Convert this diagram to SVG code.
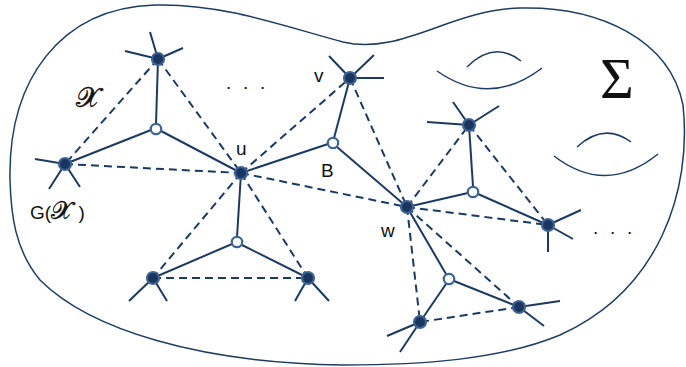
<svg xmlns="http://www.w3.org/2000/svg" width="686" height="367" viewBox="0 0 686 367">
  <style>
    .surf { fill: none; stroke: #1d3c66; stroke-width: 1.5; }
    .handle { fill: none; stroke: #1d3c66; stroke-width: 1.5; }
    .edge { fill: none; stroke: #1b3a63; stroke-width: 2; stroke-linecap: butt; }
    .dash { fill: none; stroke: #1b3a63; stroke-width: 2; stroke-dasharray: 8 5; }
    .spoke { stroke: #1b3a63; stroke-width: 2; }
    .vtx { fill: #1a3660; stroke: #3f6392; stroke-width: 2.2; }
    .hub { fill: #ffffff; stroke: #3b6596; stroke-width: 2.2; }
    .lbl { font-family: "Liberation Sans", Arial, sans-serif; font-size: 19px; fill: #111111; }
    .math { font-family: "Liberation Serif", "DejaVu Serif", serif; fill: #111111; }
  </style>

  <!-- the surface -->
  <path class="surf" d="M 10,180 C 8,80 60,8 155,5 C 220,3 280,25 343,42 C 400,56 450,10 520,8 C 600,6 670,40 683,105 C 692,190 660,290 560,335 C 500,360 420,365 343,365 C 200,363 90,330 40,280 C 15,250 11,215 10,180 Z"/>

  <!-- handles -->
  <g id="handle-1">
    <path class="handle" d="M 437,71 Q 490,108 542,68"/>
    <path class="handle" d="M 467,67 Q 494,40 521,61"/>
  </g>
  <g id="handle-2">
    <path class="handle" d="M 554,156 Q 606,196 658,154"/>
    <path class="handle" d="M 577,147 Q 604,122 631,142"/>
  </g>

  <!-- connectors -->
  <g id="connectors">
    <!-- star edges through the open hubs -->
    <line class="edge" x1="158" y1="59" x2="156" y2="124"/>
    <line class="edge" x1="151" y1="130" x2="65" y2="164"/>
    <line class="edge" x1="161" y1="131" x2="241" y2="173"/>

    <line class="edge" x1="241" y1="173" x2="328" y2="144"/>
    <line class="edge" x1="334" y1="138" x2="350" y2="78"/>
    <line class="edge" x1="337" y1="147" x2="407" y2="207"/>

    <line class="edge" x1="407" y1="207" x2="468" y2="193"/>
    <line class="edge" x1="473" y1="187" x2="469" y2="125"/>
    <line class="edge" x1="478" y1="194" x2="548" y2="225"/>

    <line class="edge" x1="407" y1="207" x2="446" y2="274"/>
    <line class="edge" x1="454" y1="281" x2="519" y2="307"/>
    <line class="edge" x1="446" y1="284" x2="420" y2="322"/>

    <line class="edge" x1="241" y1="173" x2="237" y2="237"/>
    <line class="edge" x1="232" y1="244" x2="153" y2="278"/>
    <line class="edge" x1="242" y1="245" x2="308" y2="278"/>

    <!-- dashed triangle edges -->
    <line class="dash" x1="158" y1="59" x2="65" y2="164"/>
    <line class="dash" x1="158" y1="59" x2="241" y2="173"/>
    <line class="dash" x1="65" y1="164" x2="241" y2="173"/>

    <line class="dash" x1="241" y1="173" x2="350" y2="78"/>
    <line class="dash" x1="350" y1="78" x2="407" y2="207"/>
    <line class="dash" x1="241" y1="173" x2="407" y2="207"/>

    <line class="dash" x1="407" y1="207" x2="469" y2="125"/>
    <line class="dash" x1="469" y1="125" x2="548" y2="225"/>
    <line class="dash" x1="407" y1="207" x2="548" y2="225"/>

    <line class="dash" x1="407" y1="207" x2="519" y2="307"/>
    <line class="dash" x1="407" y1="207" x2="420" y2="322"/>
    <line class="dash" x1="519" y1="307" x2="420" y2="322"/>

    <line class="dash" x1="241" y1="173" x2="153" y2="278"/>
    <line class="dash" x1="241" y1="173" x2="308" y2="278"/>
    <line class="dash" x1="153" y1="278" x2="308" y2="278"/>

    <!-- dangling half-edges -->
    <path class="spoke" d="M 158,59 L 150,32 M 158,59 L 125,51 M 158,59 L 183,48"/>
    <path class="spoke" d="M 65,164 L 35,159 M 65,164 L 49,189 M 65,164 L 80,187"/>
    <path class="spoke" d="M 350,78 L 329,56 M 350,78 L 374,55 M 350,78 L 384,78"/>
    <path class="spoke" d="M 469,125 L 453,102 M 469,125 L 499,106 M 469,125 L 427,122"/>
    <path class="spoke" d="M 548,225 L 581,210 M 548,225 L 573,239 M 548,225 L 548,252"/>
    <path class="spoke" d="M 519,307 L 560,301 M 519,307 L 544,326"/>
    <path class="spoke" d="M 420,322 L 387,336 M 420,322 L 400,352"/>
    <path class="spoke" d="M 153,278 L 129,301 M 153,278 L 167,301"/>
    <path class="spoke" d="M 308,278 L 295,301 M 308,278 L 329,301"/>
  </g>

  <!-- vertices -->
  <g id="node-a"><circle class="vtx" cx="158" cy="59" r="6"/></g>
  <g id="node-gx"><circle class="vtx" cx="65" cy="164" r="6"/></g>
  <g id="node-u"><circle class="vtx" cx="241" cy="173" r="6"/></g>
  <g id="node-v"><circle class="vtx" cx="350" cy="78" r="6"/></g>
  <g id="node-w"><circle class="vtx" cx="407" cy="207" r="6"/></g>
  <g id="node-r1"><circle class="vtx" cx="469" cy="125" r="6"/></g>
  <g id="node-r2"><circle class="vtx" cx="548" cy="225" r="6"/></g>
  <g id="node-br1"><circle class="vtx" cx="519" cy="307" r="6"/></g>
  <g id="node-br2"><circle class="vtx" cx="420" cy="322" r="6"/></g>
  <g id="node-bl"><circle class="vtx" cx="153" cy="278" r="6"/></g>
  <g id="node-bm"><circle class="vtx" cx="308" cy="278" r="6"/></g>

  <!-- open hubs -->
  <g id="hub-1"><circle class="hub" cx="156" cy="129" r="5.2"/></g>
  <g id="hub-b"><circle class="hub" cx="333" cy="143" r="5.2"/></g>
  <g id="hub-3"><circle class="hub" cx="473" cy="192" r="5.2"/></g>
  <g id="hub-4"><circle class="hub" cx="449" cy="279" r="5.2"/></g>
  <g id="hub-2"><circle class="hub" cx="237" cy="242" r="5.2"/></g>

  <!-- labels -->
  <text class="math" x="76" y="107" font-size="28" stroke="#111111" stroke-width="0.5">𝒳</text>
  <text class="lbl" x="30" y="219">G(<tspan class="math" font-size="25" stroke="#111111" stroke-width="0.4">𝒳</tspan> )</text>
  <text class="lbl" x="236" y="155">u</text>
  <text class="lbl" x="314" y="82">v</text>
  <text class="lbl" x="321" y="177">B</text>
  <text class="lbl" x="381" y="237">w</text>
  <text class="lbl" x="226 243 260" y="89">...</text>
  <text class="lbl" x="593 610 627" y="234">...</text>
  <text class="math" x="600" y="98" font-size="58">Σ</text>
</svg>
